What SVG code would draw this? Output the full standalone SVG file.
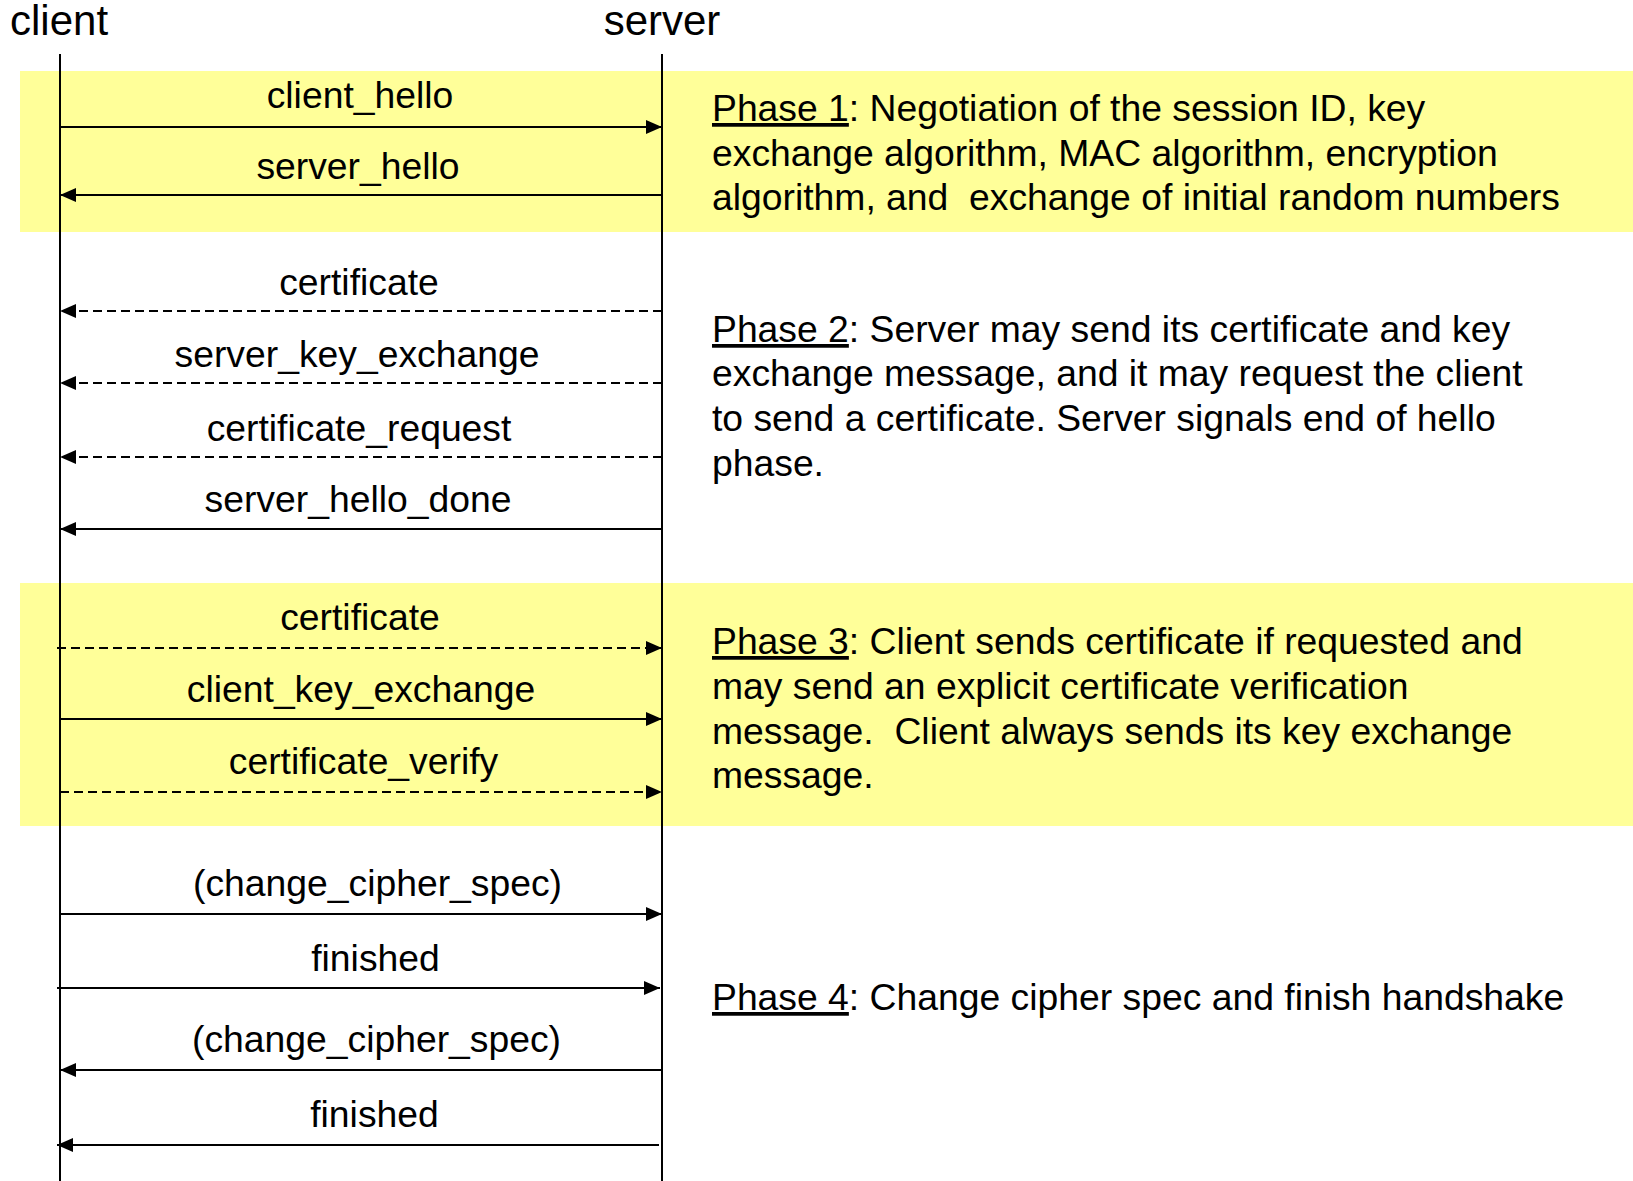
<svg xmlns="http://www.w3.org/2000/svg" width="1633" height="1181" viewBox="0 0 1633 1181">
  <style>
    .lbl { font-family: "Liberation Sans", Arial, sans-serif; font-size: 37.3px; fill: #000; text-anchor: middle; }
    .head { font-family: "Liberation Sans", Arial, sans-serif; font-size: 42px; fill: #000; }
    .desc { font-family: "Liberation Sans", Arial, sans-serif; font-size: 37.3px; fill: #000; }
    .u { text-decoration: underline; }
    .life { stroke: #000; stroke-width: 2; fill: none; }
    .msg { stroke: #000; stroke-width: 2.2; fill: none; marker-end: url(#arrow); }
    .opt { stroke-dasharray: 9 5; }
    .band { fill: #FFFF99; }
  </style>
  <defs>
    <marker id="arrow" markerUnits="userSpaceOnUse" markerWidth="18" markerHeight="16" refX="16" refY="7" orient="auto">
      <path d="M0,0 L16,7 L0,14 Z" fill="#000"/>
    </marker>
  </defs>

  <rect width="1633" height="1181" fill="#fff"/>

  <!-- phase bands -->
  <rect class="band" x="20" y="71" width="1613" height="161"/>
  <rect class="band" x="20" y="583" width="1613" height="243"/>

  <!-- participants -->
  <g id="client">
    <text class="head" x="10" y="35">client</text>
    <line class="life" x1="60" y1="54" x2="60" y2="1181"/>
  </g>
  <g id="server">
    <text class="head" x="662" y="35" text-anchor="middle">server</text>
    <line class="life" x1="662" y1="54" x2="662" y2="1181"/>
  </g>

  <!-- messages -->
  <g id="connectors">
    <line class="msg" x1="60" y1="127" x2="662" y2="127"/>
    <line class="msg" x1="662" y1="195" x2="60" y2="195"/>
    <line class="msg opt" x1="662" y1="311" x2="60" y2="311"/>
    <line class="msg opt" x1="662" y1="383" x2="60" y2="383"/>
    <line class="msg opt" x1="662" y1="457" x2="60" y2="457"/>
    <line class="msg" x1="662" y1="529" x2="60" y2="529"/>
    <line class="msg opt" x1="57" y1="648" x2="662" y2="648"/>
    <line class="msg" x1="60" y1="719" x2="662" y2="719"/>
    <line class="msg opt" x1="60" y1="792" x2="662" y2="792"/>
    <line class="msg" x1="60" y1="914" x2="662" y2="914"/>
    <line class="msg" x1="57" y1="988" x2="660" y2="988"/>
    <line class="msg" x1="662" y1="1070" x2="60" y2="1070"/>
    <line class="msg" x1="659" y1="1145" x2="57" y2="1145"/>
  </g>

  <!-- message labels -->
  <g id="labels">
    <text class="lbl" x="360" y="108">client_hello</text>
    <text class="lbl" x="358" y="179">server_hello</text>
    <text class="lbl" x="359" y="295">certificate</text>
    <text class="lbl" x="357" y="367">server_key_exchange</text>
    <text class="lbl" x="359" y="441">certificate_request</text>
    <text class="lbl" x="358" y="512">server_hello_done</text>
    <text class="lbl" x="360" y="630">certificate</text>
    <text class="lbl" x="361" y="702">client_key_exchange</text>
    <text class="lbl" x="363.5" y="774">certificate_verify</text>
    <text class="lbl" x="377.5" y="896">(change_cipher_spec)</text>
    <text class="lbl" x="375.5" y="971">finished</text>
    <text class="lbl" x="376.5" y="1052">(change_cipher_spec)</text>
    <text class="lbl" x="374.5" y="1127">finished</text>
  </g>

  <!-- phase descriptions -->
  <g id="phase1">
    <text class="desc" x="712" y="121"><tspan class="u">Phase 1</tspan>: Negotiation of the session ID, key</text>
    <text class="desc" x="712" y="166">exchange algorithm, MAC algorithm, encryption</text>
    <text class="desc" x="712" y="210" xml:space="preserve">algorithm, and  exchange of initial random numbers</text>
  </g>
  <g id="phase2">
    <text class="desc" x="712" y="342"><tspan class="u">Phase 2</tspan>: Server may send its certificate and key</text>
    <text class="desc" x="712" y="386">exchange message, and it may request the client</text>
    <text class="desc" x="712" y="431">to send a certificate. Server signals end of hello</text>
    <text class="desc" x="712" y="476">phase.</text>
  </g>
  <g id="phase3">
    <text class="desc" x="712" y="654"><tspan class="u">Phase 3</tspan>: Client sends certificate if requested and</text>
    <text class="desc" x="712" y="699">may send an explicit certificate verification</text>
    <text class="desc" x="712" y="744" xml:space="preserve">message.  Client always sends its key exchange</text>
    <text class="desc" x="712" y="788">message.</text>
  </g>
  <g id="phase4">
    <text class="desc" x="712" y="1010"><tspan class="u">Phase 4</tspan>: Change cipher spec and finish handshake</text>
  </g>
</svg>
